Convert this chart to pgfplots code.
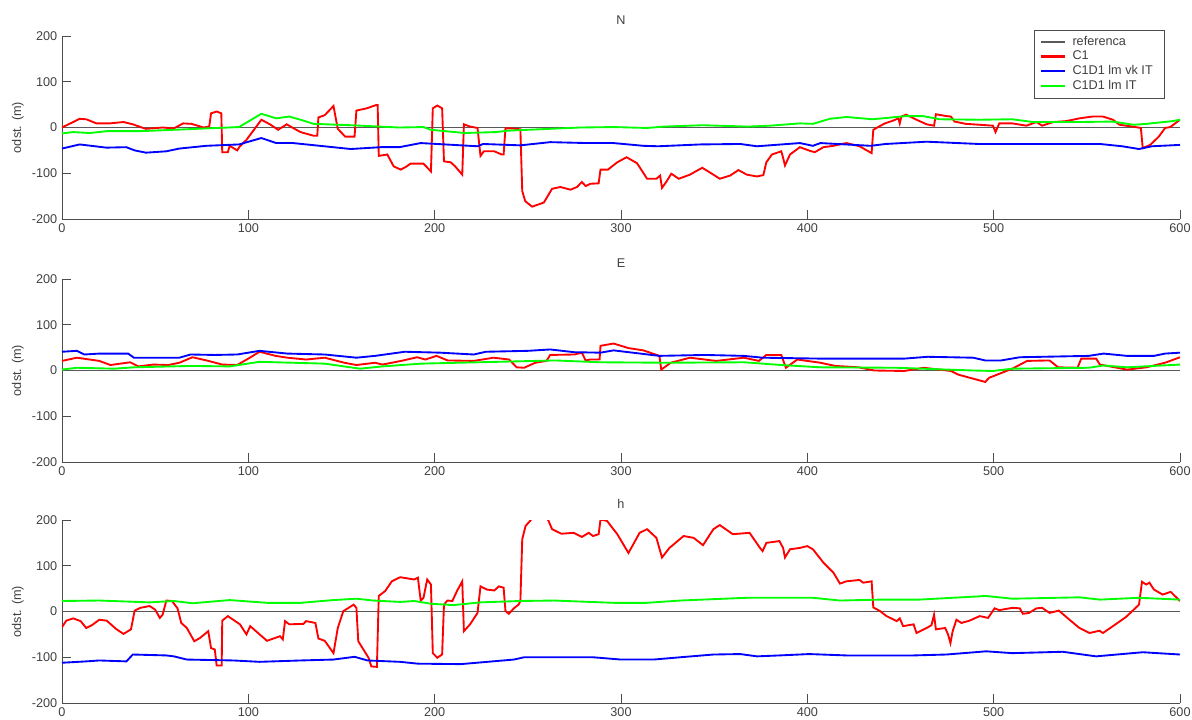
\documentclass[border=0pt]{standalone}
\usepackage{pgfplots}
\pgfplotsset{compat=1.18}
\usepackage{fontspec}
\setmainfont{Liberation Sans}
\definecolor{txt}{rgb}{0.25,0.25,0.25}
\definecolor{refc}{rgb}{0.35,0.35,0.35}
\definecolor{mgreen}{rgb}{0,1,0}
\definecolor{mred}{rgb}{1,0,0}
\definecolor{mblue}{rgb}{0,0,1}
\newcommand\f{\fontsize{9.5}{11.4}\selectfont}
\pgfplotsset{mystyle/.style={
 scale only axis, width=838.5pt, height=137.25pt, anchor=south west,
 xmin=0,xmax=600,ymin=-200,ymax=200,
 xtick={0,100,...,600}, ytick={-200,-100,0,100,200},
 axis x line*=bottom, axis y line*=left,
 tick align=inside, major tick length=7pt,
 tick style={black!70, line width=0.6pt},
 axis line style={black!70, line width=0.6pt, -},
 ticklabel style={font=\f, text=txt},
 /pgf/number format/assume math mode=true,
 ylabel={odst. (m)},
 ylabel style={font=\f, text=txt, at={(axis description cs:-0.0394,0.5)}, anchor=center},
 title style={font=\f, text=txt, at={(axis description cs:0.5,1)}, anchor=center, yshift=6pt},
}}
\begin{document}
\begin{tikzpicture}
\path[use as bounding box] (0,0) rectangle (894pt,-539.25pt);
% ---------------- N
\begin{axis}[mystyle, at={(46.5pt,-164.25pt)}, title={N},
 legend style={at={(0.9866,1.033)}, anchor=north east, font=\f, draw=black!70, fill=white, row sep=-1.2pt, inner xsep=4pt, inner ysep=2.5pt,
   nodes={inner xsep=5pt, text=txt}},
 legend image code/.code={\draw[line width=1.6pt,#1] (0pt,0pt) -- (18pt,0pt);},
 legend cell align=left]
\addlegendimage{refc, line width=1.1pt}
\addlegendentry{referenca}
\addlegendimage{mred}
\addlegendentry{C1}
\addlegendimage{mblue}
\addlegendentry{C1D1 lm vk IT}
\addlegendimage{mgreen}
\addlegendentry{C1D1 lm IT}
\addplot[refc, line width=0.75pt, forget plot] coordinates {(0,0) (600,0)};
\addplot[mred, line width=1.4pt, forget plot] coordinates {(0,0) (9.5,19) (13,18) (18.5,9) (25.6,9) (33,12) (38,7) (45,-3) (54,0) (60,-2) (65,9) (69.5,8) (76,0) (79,2) (80,31) (83,35) (85.5,31) (86,-54) (89,-54) (90,-40) (92,-45) (94,-50) (95.5,-41) (99,-27) (103,-5) (107,17) (112,6) (116,-5) (120.6,7) (124,-1) (128,-10) (135,-18) (137,-18) (137.6,22) (141,27) (145.7,47) (148,-3) (152,-20) (157,-20) (158,37) (163.6,42) (168.5,49) (169.4,49) (170,-62) (174.6,-59) (178,-85) (181.8,-92) (185,-85) (187,-79) (194,-79) (198,-96) (199,42) (201.4,48) (204,42) (205,-74) (208.6,-76) (211,-85) (214.8,-103) (215.7,7) (219,2) (223,-1) (224.6,-62) (226.4,-52) (232,-52) (236,-59) (237,-59) (238,-2) (241.6,-2) (246,-4) (247,-139) (248.6,-161) (252.3,-173) (258.6,-164) (263,-134) (267.5,-130) (272.9,-136) (276.4,-130) (279,-119) (281,-128) (283.6,-123) (288,-122) (289,-92) (293,-92) (298,-76) (303,-65) (308.6,-78) (314,-112) (319,-112) (321,-105) (322,-132) (324.6,-117) (327,-101) (331,-112) (337,-103) (343.6,-88) (348,-99) (353,-112) (358.6,-105) (363,-93) (367.5,-103) (372.9,-107) (376.4,-104) (378,-76) (381,-59) (386,-52) (386.8,-63) (388,-83) (390.7,-59) (396,-43) (401.4,-51) (404,-54) (408.6,-43) (414,-40) (421,-34) (428,-41) (434.5,-56) (435.4,-5) (438,1) (441.6,9) (446,15) (448.9,20) (449.6,9) (450.5,24) (453,28) (458.6,17) (464,7) (468,4) (469,29) (474.6,25) (477,24) (479,13) (485,8) (492.5,6) (499.6,4) (501,-10) (503,9) (510,9) (517.5,4) (523,12) (526,4) (532,12) (539,14) (546,20) (553,24) (558.6,24) (564,17) (567.5,6) (574.6,2) (579,-1) (580,-45) (584,-38) (588.6,-20) (592,-1) (594.8,1) (600,17)};
\addplot[mblue, line width=1.4pt, forget plot] coordinates {(0,-46) (9.5,-37) (23.8,-44) (34.5,-43) (39,-50) (45,-55) (56,-52) (63,-46) (77.5,-40) (95,-37) (107,-23) (115,-34) (124,-34) (155,-47) (171,-43) (181,-43) (192.5,-34) (223,-41) (226,-36) (246,-39) (262,-32) (282,-34) (296,-34) (312,-40) (320,-41) (342.5,-37) (364,-36) (373,-41) (396,-34) (403,-40) (407,-34) (434,-40) (442,-36) (464,-31) (492,-36) (528,-36) (557,-36) (569,-41) (578,-47) (585,-41) (600,-38)};
\addplot[mgreen, line width=1.4pt, forget plot] coordinates {(0,-13) (6,-10) (15,-12) (24,-8) (42,-8) (60,-5) (77.5,-2) (95,1) (107,30) (115,20) (122,24) (128,17) (135,8) (155,5) (181,0) (194,1) (198,-5) (216,-12) (233,-10) (239,-7) (250,-5) (278,0) (296,1) (314,-1) (323,2) (344,5) (368,2) (380,4) (396,9) (403,8) (412,19) (421,23) (435,18) (453,25) (462,25) (471,18) (492.5,17) (510,18) (521,12) (546,12) (564,13) (575,6) (582,8) (596,14) (600,17)};
\end{axis}
% ---------------- E
\begin{axis}[mystyle, at={(46.5pt,-346.5pt)}, title={E}]
\addplot[refc, line width=0.75pt] coordinates {(0,0) (600,0)};
\addplot[mred, line width=1.4pt] coordinates {(0,21) (8,28) (20,21) (26,12) (36.6,18) (41,9) (49,13) (57,12) (63,17) (70,29) (77.6,22) (86,13) (94,12) (100,26) (106,41) (114.6,32) (121,28) (131,24) (141,28) (151.5,17) (158,12) (168,17) (172,13) (182,21) (190.6,29) (195,24) (201,32) (207,22) (221,21) (231.6,28) (240,24) (244,7) (248,6) (254,17) (260,21) (262,34) (275,35) (279,39) (281,22) (283.5,24) (288.5,24) (289,54) (296,59) (304,49) (312,44) (320.6,32) (321.6,2) (326.7,17) (337,28) (351,21) (366,28) (374,21) (378,34) (386,34) (388.5,6) (394.6,24) (407,17) (415,10) (427.6,7) (436,0) (452,-1) (462.5,6) (477,-1) (481,-9) (495.5,-25) (497.5,-16) (510,4) (518,21) (530,22) (534.6,7) (545,6) (547,26) (555,26) (557,13) (571.6,2) (582,7) (592,17) (600,29)};
\addplot[mblue, line width=1.4pt] coordinates {(0,41) (8,43) (12,35) (20,37) (35.5,37) (38.6,28) (63,28) (69,35) (82,34) (94,35) (106,43) (121,37) (141,35) (158,28) (168,32) (184,41) (203,39) (221,35) (227.5,41) (250,43) (262,46) (275,40) (289,39) (296,44) (320.6,32) (345,34) (366,32) (376,28) (407,26) (427.6,26) (452,26) (464.6,30) (489,28) (495.5,22) (504,22) (514,29) (551,32) (559,37) (571.6,32) (586,32) (592,37) (600,39)};
\addplot[mgreen, line width=1.4pt] coordinates {(0,2) (8,6) (28,4) (38.6,7) (69,10) (90,9) (106,19) (141,15) (160,4) (172,9) (192.6,15) (233.7,19) (264.5,22) (289,18) (324.7,17) (366,18) (386,12) (407,7) (448,6) (489,0) (499.6,-1) (510,4) (551,6) (559,11) (571.6,7) (600,13)};
\end{axis}
% ---------------- h
\begin{axis}[mystyle, at={(46.5pt,-527.25pt)}, title={h}]
\addplot[refc, line width=0.75pt] coordinates {(0,0) (600,0)};
\addplot[mred, line width=1.4pt] coordinates {(0,-34) (2.3,-20) (6,-15) (10,-21) (13,-36) (16,-30) (20,-18) (24,-20) (29,-38) (33,-49) (37,-39) (39,2) (42,8) (47,12) (50,4) (52.5,-14) (54,-7) (56,24) (59,23) (62,7) (64,-25) (67,-36) (71,-65) (74,-58) (78.5,-43) (80,-80) (82,-83) (83,-118) (85.7,-118) (86,-20) (89,-10) (95.5,-28) (99,-50) (101,-32) (110,-64) (117,-54) (118.5,-61) (119.7,-21) (122,-28) (129.6,-27) (131,-21) (136,-25) (137.6,-59) (141,-64) (145.7,-91) (148,-36) (151,1) (153.8,8) (156.5,15) (158,8) (159,-65) (164.5,-101) (166,-120) (169,-121) (170,34) (173.5,45) (177,66) (181.5,75) (189,70) (191,74) (192.5,24) (194,30) (196,70) (198,59) (199,-91) (201.4,-101) (204,-94) (205,15) (206.8,24) (209.5,23) (212,45) (214.8,66) (215.7,-43) (219,-28) (223,-3) (224.6,55) (228,48) (232,46) (234.5,55) (237,52) (238,1) (239.8,-5) (242.5,7) (245,15) (246,23) (247,158) (248.8,187) (251.4,199) (254,215) (258,222) (261,199) (263,180) (268,170) (274.6,172) (279,163) (282.7,172) (285,165) (288,169) (289,201) (292.5,198) (298,169) (304,128) (310,172) (314,180) (319,161) (322,118) (326,139) (333.6,165) (339,161) (344,145) (349.6,180) (353,189) (360,169) (369,172) (374.6,139) (376,132) (378,150) (385,154) (387,139) (388,118) (390.7,136) (396,139) (400,143) (403,136) (408.6,107) (414,85) (417.5,61) (421,66) (428,69) (430,63) (434.5,66) (435.4,9) (439,1) (442.5,-10) (448,-21) (449.6,-15) (451.4,-32) (457,-28) (458.6,-47) (464,-36) (466.6,-30) (468,-7) (469,-39) (474,-36) (475.5,-50) (476.8,-69) (478,-43) (480,-18) (482.7,-25) (487,-20) (492.5,-10) (497,-14) (500.5,7) (503,3) (510,8) (514,7) (515.7,-5) (519,-3) (523,7) (526,8) (530,-3) (535,2) (540.7,-18) (546,-36) (551.4,-47) (556.8,-42) (558.6,-47) (564,-32) (571,-12) (578,15) (579.6,65) (581.8,59) (583.6,63) (586,48) (590.7,37) (595,43) (600,23)};
\addplot[mblue, line width=1.4pt] coordinates {(0,-112) (13,-109) (20,-107) (34.6,-109) (38,-94) (56,-96) (60,-98) (67,-105) (92,-107) (106,-110) (128,-107) (145.7,-105) (157,-99) (164,-107) (181.5,-110) (191,-114) (214,-115) (242.5,-105) (248,-100) (285,-100) (300,-105) (317.5,-105) (331.8,-100) (349.6,-94) (364,-93) (373,-98) (385,-96) (401,-93) (421,-96) (457,-96) (474.6,-94) (496,-87) (510,-91) (537,-88) (555,-98) (580,-89) (600,-94)};
\addplot[mgreen, line width=1.4pt] coordinates {(0,23) (20,24) (47,20) (60,23) (70,18) (90,25) (110,19) (128,19) (145.7,25) (158,28) (167,24) (181.5,21) (189,23) (198,17) (210,14) (224.6,20) (246,23) (264,24) (296,19) (314,19) (331.8,24) (367.5,30) (396,30) (403,30) (417.5,24) (439,26) (460,26) (496,34) (510,28) (546,31) (557,26) (578,30) (600,26)};
\end{axis}
\end{tikzpicture}
\end{document}
